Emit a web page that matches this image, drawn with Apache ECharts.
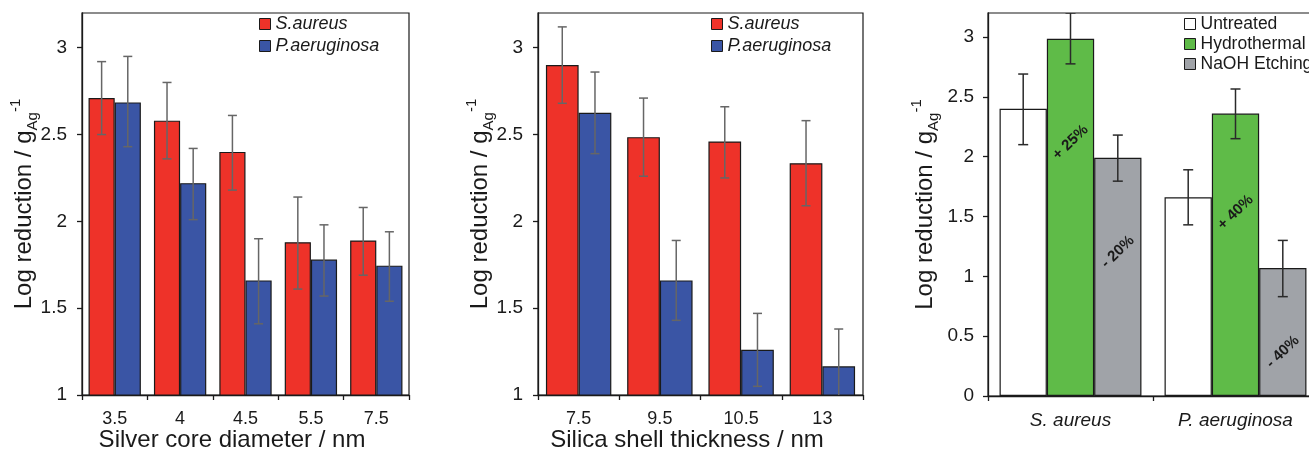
<!DOCTYPE html>
<html><head><meta charset="utf-8">
<script src="https://cdn.jsdelivr.net/npm/echarts@6/dist/echarts.min.js"></script>
<style>html,body{margin:0;padding:0;background:#fff}#c{width:1309px;height:449px}</style>
</head><body><div id="c"></div>
<script>
// ---- Panel 1: silver core diameter ----
const cats1 = ['3.5', '4', '4.5', '5.5', '7.5'];
const sa1 = [2.71, 2.58, 2.40, 1.88, 1.89];
const sa1Lo = [2.50, 2.36, 2.18, 1.61, 1.69];
const sa1Hi = [2.92, 2.80, 2.61, 2.14, 2.08];
const pa1 = [2.685, 2.22, 1.66, 1.78, 1.745];
const pa1Lo = [2.43, 2.01, 1.41, 1.57, 1.54];
const pa1Hi = [2.95, 2.42, 1.90, 1.98, 1.94];

// ---- Panel 2: silica shell thickness ----
const cats2 = ['7.5', '9.5', '10.5', '13'];
const sa2 = [2.90, 2.485, 2.46, 2.335];
const sa2Lo = [2.68, 2.26, 2.25, 2.09];
const sa2Hi = [3.12, 2.71, 2.66, 2.58];
const pa2 = [2.625, 1.66, 1.26, 1.165];
const pa2Lo = [2.39, 1.43, 1.05, 0.95];
const pa2Hi = [2.86, 1.89, 1.47, 1.38];

// ---- Panel 3: treatments ----
const cats3 = ['S. aureus', 'P. aeruginosa'];
const untreated = [2.40, 1.66];
const untreatedLo = [2.10, 1.43];
const untreatedHi = [2.69, 1.89];
const hydro = [2.985, 2.36];
const hydroLo = [2.775, 2.15];
const hydroHi = [3.20, 2.565];
const naoh = [1.99, 1.07];
const naohLo = [1.795, 0.83];
const naohHi = [2.18, 1.30];
const hydroPct = ['+ 25%', '+ 40%'];
const naohPct = ['- 20%', '- 40%'];

// tick labels
const ticks12 = [1, 1.5, 2, 2.5, 3];
const ticks3 = [0, 0.5, 1, 1.5, 2, 2.5, 3];

// ---- styles ----
const FONT = 'Liberation Sans, Arial, sans-serif';
const RED = '#EE3229', BLUE = '#3A55A5', GREEN = '#5FBB48', GRAY = '#A0A3A8', WHITE = '#ffffff';
const EDGE = '#1a1a1a';
const hydroLabelPos = [['50%', '29%'], ['50%', '35%']];
const naohLabelPos = [['50%', '39.5%'], ['50%', '65.5%']];

const chart = echarts.init(document.getElementById('c'));

function errSeries(axis, lo, hi, idx, n, gap, color, capHalf) {
  return {
    type: 'custom', name: 'err' + axis + '_' + idx, xAxisIndex: axis, yAxisIndex: axis,
    z: 5, clip: true, silent: true,
    data: lo.map((l, i) => [i, l, hi[i]]),
    encode: { x: 0, y: [1, 2] },
    renderItem(params, api) {
      const i = api.value(0);
      const bw = api.size([1, 0])[0];
      const occ = bw * (1 - gap);
      const w = occ / n;
      const dx = -occ / 2 + w * (idx + 0.5);
      const pLo = api.coord([i, api.value(1)]);
      const pHi = api.coord([i, api.value(2)]);
      const x = pLo[0] + dx;
      const style = { stroke: color, lineWidth: 1.5, fill: null };
      return {
        type: 'group', children: [
          { type: 'line', shape: { x1: x, y1: pLo[1], x2: x, y2: pHi[1] }, style },
          { type: 'line', shape: { x1: x - capHalf, y1: pLo[1], x2: x + capHalf, y2: pLo[1] }, style },
          { type: 'line', shape: { x1: x - capHalf, y1: pHi[1], x2: x + capHalf, y2: pHi[1] }, style }
        ]
      };
    }
  };
}

function bar(name, axis, data, color, gap) {
  return {
    type: 'bar', name, xAxisIndex: axis, yAxisIndex: axis, data,
    barGap: '0%', barCategoryGap: gap,
    itemStyle: { color, borderColor: EDGE, borderWidth: 1.2 },
    z: 2
  };
}

const pctLabel = { show: true, rotate: 44, align: 'center', verticalAlign: 'middle',
  fontSize: 15, fontWeight: 'bold', color: '#1a1a1a', fontFamily: FONT };

function xAxis(grid, cats, name, labelStyle, margin) {
  return {
    type: 'category', gridIndex: grid, data: cats,
    axisLine: { lineStyle: { color: EDGE, width: 1.3 } },
    axisTick: { show: true, alignWithLabel: false, length: 5, lineStyle: { color: EDGE, width: 1.3 } },
    axisLabel: Object.assign({ fontSize: 18, color: '#1a1a1a', fontFamily: FONT, margin }, labelStyle),
    name, nameLocation: 'middle', nameGap: 33, nameMoveOverlap: false,
    nameTextStyle: { fontSize: 24, color: '#1a1a1a', fontFamily: FONT, padding: [0, 27, 0, 0] }
  };
}

function yAxis(grid, min, ticks, gap, margin) {
  return {
    type: 'value', gridIndex: grid, min, max: 3.2, interval: 0.5,
    splitLine: { show: false },
    axisLine: { show: true, lineStyle: { color: EDGE, width: 1.3 } },
    axisTick: { show: true, length: 5, customValues: ticks, lineStyle: { color: EDGE, width: 1.3 } },
    axisLabel: { fontSize: 19, color: '#1a1a1a', fontFamily: FONT, margin, customValues: ticks },
    name: '{t|Log reduction / g}{sub|Ag}{sup|-1}', nameLocation: 'middle', nameRotate: 90, nameGap: gap,
    nameMoveOverlap: false,
    nameTextStyle: {
      fontFamily: FONT, color: '#1a1a1a',
      rich: {
        t: { fontSize: 24, lineHeight: 32, fontFamily: FONT, color: '#1a1a1a' },
        sub: { fontSize: 15, lineHeight: 15, verticalAlign: 'bottom', fontFamily: FONT, color: '#1a1a1a' },
        sup: { fontSize: 15, lineHeight: 15, verticalAlign: 'top', fontFamily: FONT, color: '#1a1a1a' }
      }
    }
  };
}

const legendBase = {
  orient: 'vertical', itemWidth: 11, itemHeight: 11, icon: 'rect', selectedMode: false, padding: 0,
  itemStyle: { borderColor: EDGE, borderWidth: 1 }
};

const gridBase = { show: true, borderColor: EDGE, borderWidth: 1.2, backgroundColor: 'transparent',
  outerBoundsMode: 'none', containLabel: false };

const option = {
  animation: false,
  backgroundColor: '#fff',
  textStyle: { fontFamily: FONT },
  grid: [
    Object.assign({ left: 82, top: 13, width: 327, height: 382 }, gridBase),
    Object.assign({ left: 538, top: 13, width: 325, height: 382 }, gridBase),
    Object.assign({ left: 988, top: 13, width: 330, height: 383 }, gridBase)
  ],
  legend: [
    Object.assign({}, legendBase, { data: ['S.aureus', 'P.aeruginosa'], left: 259, top: 15, itemGap: 4,
      textStyle: { fontSize: 18, fontStyle: 'italic', color: '#1a1a1a', fontFamily: FONT } }),
    Object.assign({}, legendBase, { data: ['S.aureus', 'P.aeruginosa'], left: 711, top: 15, itemGap: 4,
      textStyle: { fontSize: 18, fontStyle: 'italic', color: '#1a1a1a', fontFamily: FONT } }),
    Object.assign({}, legendBase, { data: ['Untreated', 'Hydrothermal', 'NaOH Etching'], left: 1184, top: 15, itemGap: 2,
      textStyle: { fontSize: 17.5, color: '#1a1a1a', fontFamily: FONT } })
  ],
  xAxis: [
    xAxis(0, cats1, 'Silver core diameter / nm', {}, 15),
    xAxis(1, cats2, 'Silica shell thickness / nm', {}, 15),
    Object.assign(xAxis(2, cats3, '', { fontSize: 19, fontStyle: 'italic' }, 15), { name: '' })
  ],
  yAxis: [
    yAxis(0, 1, ticks12, 42, 15),
    yAxis(1, 1, ticks12, 42, 15),
    yAxis(2, 0, ticks3, 47, 14)
  ],
  series: [
    bar('S.aureus', 0, sa1, RED, '20%'),
    bar('P.aeruginosa', 0, pa1, BLUE, '20%'),
    errSeries(0, sa1Lo, sa1Hi, 0, 2, 0.20, '#666', 4.5),
    errSeries(0, pa1Lo, pa1Hi, 1, 2, 0.20, '#666', 4.5),

    bar('S.aureus', 1, sa2, RED, '19.5%'),
    bar('P.aeruginosa', 1, pa2, BLUE, '19.5%'),
    errSeries(1, sa2Lo, sa2Hi, 0, 2, 0.195, '#666', 4.5),
    errSeries(1, pa2Lo, pa2Hi, 1, 2, 0.195, '#666', 4.5),

    bar('Untreated', 2, untreated, WHITE, '14%'),
    bar('Hydrothermal', 2, hydro.map((v, i) => ({ value: v,
      label: Object.assign({}, pctLabel, { formatter: hydroPct[i], position: hydroLabelPos[i] }) })), GREEN, '14%'),
    bar('NaOH Etching', 2, naoh.map((v, i) => ({ value: v,
      label: Object.assign({}, pctLabel, { formatter: naohPct[i], position: naohLabelPos[i] }) })), GRAY, '14%'),
    errSeries(2, untreatedLo, untreatedHi, 0, 3, 0.14, '#2a2a2a', 5),
    errSeries(2, hydroLo, hydroHi, 1, 3, 0.14, '#2a2a2a', 5),
    errSeries(2, naohLo, naohHi, 2, 3, 0.14, '#2a2a2a', 5)
  ]
};
chart.setOption(option);
</script>
</body></html>
